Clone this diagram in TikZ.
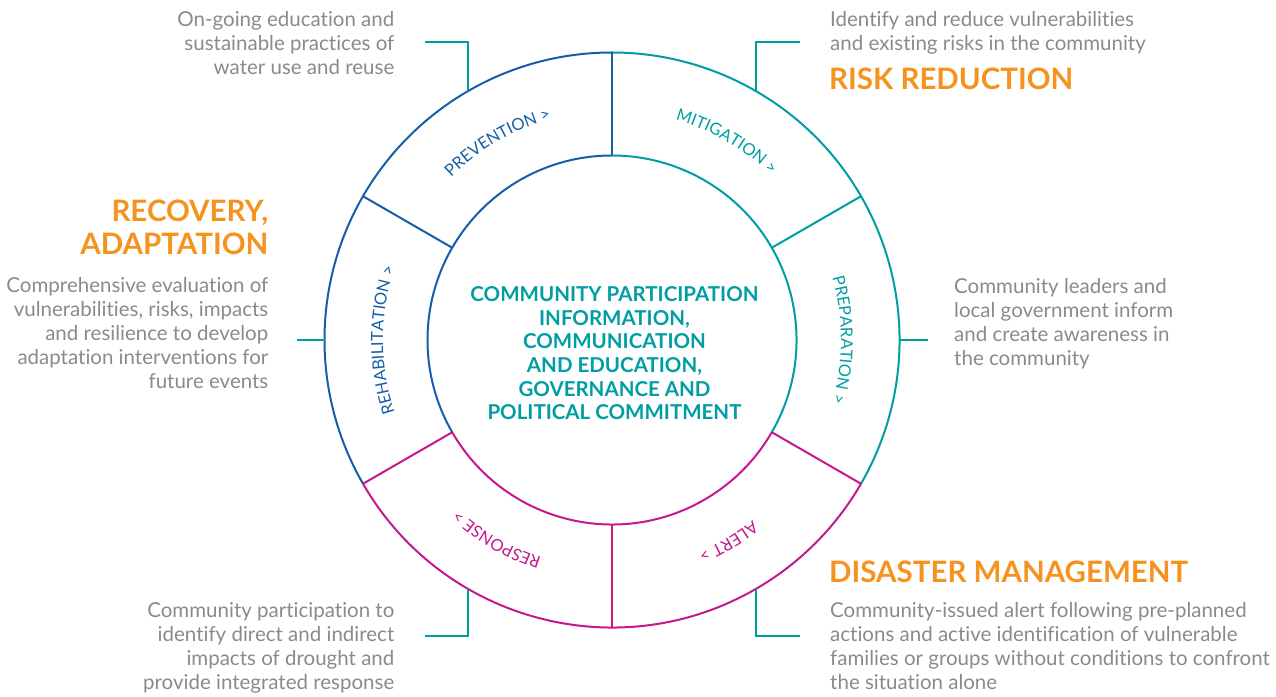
\documentclass[tikz,border=0pt]{standalone}
\usepackage{fontspec}
\setmainfont{Lato}[Ligatures=NoCommon]
\usetikzlibrary{decorations.text}
\definecolor{cblue}{RGB}{22,94,168}
\definecolor{cteal}{RGB}{0,158,163}
\definecolor{cmag}{RGB}{196,24,140}
\definecolor{corange}{RGB}{246,146,30}
\definecolor{cgrey}{RGB}{138,138,138}
\newcommand\lblfont{\fontsize{16.5}{16.5}\selectfont}
\begin{document}
\begin{tikzpicture}[x=1pt,y=1pt,
  ring/.style={line width=2pt},
  conn/.style={cteal,line width=2pt},
  para/.style={text=cgrey,inner sep=0pt,font=\fontsize{20.5}{24}\selectfont},
  head/.style={text=corange,inner sep=0pt,font=\fontsize{29.5}{32.5}\selectfont\bfseries},
  core/.style={text=cteal,inner sep=0pt,align=center,font=\fontsize{20.5}{23.6}\selectfont\bfseries},
  lbl/.style={decorate}]
\useasboundingbox (0,0) rectangle (1276,696);
\coordinate (C) at (612,356);
\def\Ro{287.5}\def\Ri{184.5}\def\Rl{229}
\foreach \a in {30,90,150,210,270,330}{
  \path (C) ++(\a:\Ro) coordinate (o\a);
  \path (C) ++(\a:\Ri) coordinate (i\a);
}
\foreach \a in {0,60,120,180,240,300}{
  \path (C) ++(\a:\Ro) coordinate (a\a);
}
% rings
\draw[ring,cblue] (o90) arc[start angle=90,end angle=210,radius=\Ro];
\draw[ring,cmag] (o210) arc[start angle=210,end angle=330,radius=\Ro];
\draw[ring,cteal] (o330) arc[start angle=-30,end angle=90,radius=\Ro];
\draw[ring,cblue] (i90) arc[start angle=90,end angle=210,radius=\Ri];
\draw[ring,cmag] (i210) arc[start angle=210,end angle=330,radius=\Ri];
\draw[ring,cteal] (i330) arc[start angle=-30,end angle=90,radius=\Ri];
% dividers
\draw[ring,cblue] (i90) -- (o90);
\draw[ring,cblue] (i150) -- (o150);
\draw[ring,cmag] (i210) -- (o210);
\draw[ring,cmag] (i270) -- (o270);
\draw[ring,cmag] (i330) -- (o330);
\draw[ring,cteal] (i30) -- (o30);
% ring labels (curved, reading clockwise)
\path[lbl,decoration={text along path,text align=center,text={|\lblfont\color{cblue}|PREVENTION >}}]
  (C) ++(155:\Rl) arc[start angle=155,end angle=85,radius=\Rl];
\path[lbl,decoration={text along path,text align=center,text={|\lblfont\color{cteal}|MITIGATION >}}]
  (C) ++(95:\Rl) arc[start angle=95,end angle=25,radius=\Rl];
\path[lbl,decoration={text along path,text align=center,text={|\lblfont\color{cteal}|PREPARATION >}}]
  (C) ++(35:\Rl) arc[start angle=35,end angle=-35,radius=\Rl];
\path[lbl,decoration={text along path,text align=center,text={|\lblfont\color{cmag}|ALERT >}}]
  (C) ++(-25:\Rl) arc[start angle=-25,end angle=-95,radius=\Rl];
\path[lbl,decoration={text along path,text align=center,text={|\lblfont\color{cmag}|RESPONSE >}}]
  (C) ++(-85:\Rl) arc[start angle=-85,end angle=-155,radius=\Rl];
\path[lbl,decoration={text along path,text align=center,text={|\lblfont\color{cblue}|REHABILITATION >}}]
  (C) ++(215:\Rl) arc[start angle=215,end angle=145,radius=\Rl];
% connectors
\coordinate (tl) at (425,654);
\coordinate (tr) at (800,654);
\coordinate (lf) at (297,356);
\coordinate (rt) at (928,356);
\coordinate (bl) at (425,60);
\coordinate (br) at (800,60);
\draw[conn] (tl) -| (a120);
\draw[conn] (tr) -| (a60);
\draw[conn] (lf) -- (a180);
\draw[conn] (a0) -- (rt);
\draw[conn] (bl) -| (a240);
\draw[conn] (br) -| (a300);
% centre (base anchor = last line baseline)
\node[core,anchor=base] (core) at (614.5,276.3) {COMMUNITY PARTICIPATION\\INFORMATION,\\COMMUNICATION\\AND EDUCATION,\\GOVERNANCE AND\\POLITICAL COMMITMENT};
% headings
\node[head,anchor=base west] (hrisk) at (829,606.7) {RISK REDUCTION};
\node[head,anchor=base east,align=right] (hrec) at (268.5,441.8) {RECOVERY,\\ADAPTATION};
\node[head,anchor=base west] (hdis) at (829,113.7) {DISASTER MANAGEMENT};
% paragraphs
\node[para,anchor=base east,align=right] (ptl) at (394.5,621.5) {On-going education and\\sustainable practices of\\water use and reuse};
\node[para,anchor=base west,align=left] (ptr) at (830,645.5) {Identify and reduce vulnerabilities\\and existing risks in the community};
\node[para,anchor=base east,align=right] (pl) at (268.5,307.3) {Comprehensive evaluation of\\vulnerabilities, risks, impacts\\and resilience to develop\\adaptation interventions for\\future events};
\node[para,anchor=base west,align=left] (pr) at (954,330) {Community leaders and\\local government inform\\and create awareness in\\the community};
\node[para,anchor=base east,align=right] (pbl) at (394.5,7) {Community participation to\\identify direct and indirect\\impacts of drought and\\provide integrated response};
\node[para,anchor=base west,align=left] (pbr) at (830,6.5) {Community-issued alert following pre-planned\\actions and active identification of vulnerable\\families or groups without conditions to confront\\the situation alone};
\end{tikzpicture}
\end{document}
